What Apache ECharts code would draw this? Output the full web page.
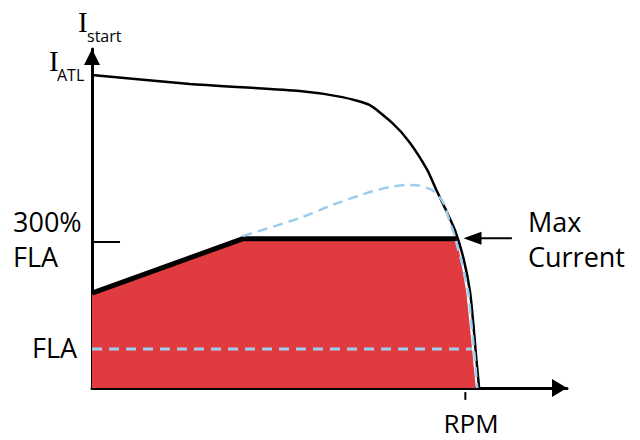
<!DOCTYPE html>
<html>
<head>
<meta charset="utf-8">
<script src="https://cdn.jsdelivr.net/npm/echarts@6/dist/echarts.min.js"></script>
<style>
  html, body { margin: 0; padding: 0; background: #fff; }
  #chart { width: 640px; height: 440px; }
</style>
</head>
<body>
<div id="chart"></div>
<script>
// Motor starting current vs. speed (schematic units: speed 0-100, current 0-100)

// Across-the-line starting current curve
const atlSpeed   = [0, 20.6, 43.7, 52.7, 58.4, 63.2, 66.8, 70.6, 72.5, 74.5, 76.4, 78.2, 79.6, 80.3, 80.9, 81.5];
const atlCurrent = [92.3, 89.7, 87.6, 85.8, 83.5, 78.2, 72.6, 64.3, 58.4, 52.5, 46.6, 38.3, 28.3, 18.6, 8.8, 0];

// Soft-start current envelope (filled region)
const envSpeed   = [0, 31.7, 76.8, 77.7, 78.8, 80.0, 80.8];
const envCurrent = [28.0, 44.0, 44.0, 37.2, 28.3, 11.8, 0];

// Current-limited ramp boundary (ramp + 300% FLA limit)
const limitSpeed   = [0, 31.7, 76.8];
const limitCurrent = [28.0, 44.0, 44.0];

// Reduced-voltage current curve (dashed)
const rvSpeed   = [31.7, 43.7, 50.6, 57.8, 62.6, 66.1, 68.9, 71.6, 73.1, 74.2, 75.2, 76.3, 77.0, 77.8, 79.2, 79.9, 80.6, 81.1];
const rvCurrent = [44.8, 50.1, 54.0, 57.5, 59.3, 59.9, 59.7, 58.4, 56.4, 54.0, 49.6, 45.1, 41.3, 37.2, 28.3, 18.6, 8.8, 0];

// Reference levels
const flaLevel      = 11.5;   // full-load amps
const flaEndSpeed   = 80.0;
const fla300Level   = 43.1;   // 300% FLA
const fla300Tick    = [-0.84, 5.9];
const ratedSpeed    = 78.6;   // RPM tick
const rpmTickRange  = [-1.2, -3.5];
const maxCurrentArrow = { from: 88.4, to: 80.1, level: 44.2 };

const pairs = (xs, ys) => xs.map((x, i) => [x, ys[i]]);

const RED = '#e03c40';
const BLUE = '#9ccdee';
const FONT = '"Open Sans", "Noto Sans", sans-serif';

const chart = echarts.init(document.getElementById('chart'), null, { renderer: 'svg' });

chart.setOption({
  animation: false,
  backgroundColor: '#ffffff',
  grid: { left: 92, right: 73, top: 49, bottom: 52 },
  xAxis: {
    type: 'value', min: 0, max: 100,
    axisLine: { show: true, lineStyle: { color: '#000', width: 3 },
      symbol: ['none', 'triangle'], symbolSize: [18, 15], symbolOffset: [0, -7.5] },
    axisTick: { show: false }, axisLabel: { show: false }, splitLine: { show: false }
  },
  yAxis: {
    type: 'value', min: 0, max: 100,
    axisLine: { show: true, lineStyle: { color: '#000', width: 3 },
      symbol: ['none', 'triangle'], symbolSize: [16, 16], symbolOffset: [0, -8] },
    axisTick: { show: false }, axisLabel: { show: false }, splitLine: { show: false }
  },
  series: [
    {
      name: 'envelope', type: 'line', data: pairs(envSpeed, envCurrent),
      symbol: 'none', lineStyle: { width: 0 }, areaStyle: { color: RED, opacity: 1 }, z: 1
    },
    {
      name: 'flaLine', type: 'line', data: [[0, flaLevel], [flaEndSpeed, flaLevel]],
      symbol: 'none', lineStyle: { color: BLUE, width: 3, type: [10, 7] }, z: 2
    },
    {
      name: 'limit', type: 'line', data: pairs(limitSpeed, limitCurrent),
      symbol: 'none', lineStyle: { color: '#000', width: 5, join: 'miter' }, z: 3
    },
    {
      name: 'atl', type: 'line', data: pairs(atlSpeed, atlCurrent),
      symbol: 'none', smooth: 0.2, lineStyle: { color: '#000', width: 2.5 }, z: 4
    },
    {
      name: 'reducedVoltage', type: 'line', data: pairs(rvSpeed, rvCurrent),
      symbol: 'none', smooth: 0.2, lineStyle: { color: BLUE, width: 2.5, type: [10, 6] }, z: 5
    },
    {
      name: 'fla300Tick', type: 'line', clip: false,
      data: [[fla300Tick[0], fla300Level], [fla300Tick[1], fla300Level]],
      symbol: 'none', lineStyle: { color: '#000', width: 2 }, z: 6
    },
    {
      name: 'rpmTick', type: 'line', clip: false,
      data: [[ratedSpeed, rpmTickRange[0]], [ratedSpeed, rpmTickRange[1]]],
      symbol: 'none', lineStyle: { color: '#000', width: 2 }, z: 6
    },
    {
      name: 'maxCurrent', type: 'line', clip: false,
      data: [
        { value: [maxCurrentArrow.from, maxCurrentArrow.level], symbol: 'none' },
        { value: [maxCurrentArrow.to, maxCurrentArrow.level], symbol: 'triangle',
          symbolSize: [13, 18], symbolRotate: 90 }
      ],
      showAllSymbol: true,
      itemStyle: { color: '#000' },
      lineStyle: { color: '#000', width: 2 }, z: 7
    }
  ],
  graphic: [
    { type: 'text', x: 78, y: 22, style: { text: 'I', font: '29px "Liberation Serif", serif', fill: '#000', verticalAlign: 'middle' } },
    { type: 'text', x: 87, y: 36, style: { text: 'start', font: '16px ' + FONT, fill: '#000', verticalAlign: 'middle' } },
    { type: 'text', x: 49, y: 61, style: { text: 'I', font: '29px "Liberation Serif", serif', fill: '#000', verticalAlign: 'middle' } },
    { type: 'text', x: 57, y: 75, style: { text: 'ATL', font: '16px ' + FONT, fill: '#000', verticalAlign: 'middle' } },
    { type: 'text', x: 13, y: 221, style: { text: '300%', font: '27px ' + FONT, fill: '#000', verticalAlign: 'middle' } },
    { type: 'text', x: 13, y: 256, style: { text: 'FLA', font: '27px ' + FONT, fill: '#000', verticalAlign: 'middle' } },
    { type: 'text', x: 32, y: 347, style: { text: 'FLA', font: '27px ' + FONT, fill: '#000', verticalAlign: 'middle' } },
    { type: 'text', x: 528, y: 221, style: { text: 'Max', font: '27px ' + FONT, fill: '#000', verticalAlign: 'middle' } },
    { type: 'text', x: 528, y: 256, style: { text: 'Current', font: '27px ' + FONT, fill: '#000', verticalAlign: 'middle' } },
    { type: 'text', x: 471, y: 423, style: { text: 'RPM', font: '26px ' + FONT, fill: '#000', align: 'center', verticalAlign: 'middle' } }
  ]
});
</script>
</body>
</html>
